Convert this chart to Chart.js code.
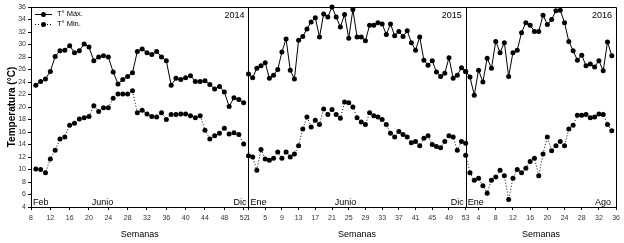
<!DOCTYPE html>
<html><head><meta charset="utf-8">
<script src="https://cdn.jsdelivr.net/npm/chart.js@4.4.1/dist/chart.umd.min.js"></script>
<style>html,body{margin:0;padding:0;background:#fff}#wrap{width:624px;height:243px;position:relative}</style>
</head><body><div id="wrap"><canvas id="c"></canvas></div>
<script>
const weeks2014 = [9,10,11,12,13,14,15,16,17,18,19,20,21,22,23,24,25,26,27,28,29,30,31,32,33,34,35,36,37,38,39,40,41,42,43,44,45,46,47,48,49,50,51,52];
const max2014 = [23.5,24.1,24.5,25.7,28.1,29.0,29.1,29.8,28.7,29.0, 30.1,29.6,27.4,28.0,28.2,28.0,25.6,23.7,24.4,24.9, 25.5,28.9,29.3,28.7,28.4,28.9,28.0,27.4,23.5,24.6, 24.4,24.7,25.0,24.1,24.1,24.2,23.6,22.9,23.3,22.4, 20.1,21.5,21.2,20.7];
const min2014 = [10.1,10.0,9.5,11.7,13.1,14.9,15.2,17.1,17.4,18.1, 18.3,18.5,20.2,19.3,19.9,19.9,21.4,22.1,22.1,22.1, 22.6,19.1,19.5,18.9,18.5,18.4,19.1,18.0,18.8,18.8, 18.9,18.9,18.6,18.3,18.6,16.3,14.9,15.4,15.8,16.6, 15.7,15.9,15.6,14.1];

const weeks2015 = [1,2,3,4,5,6,7,8,9,10,11,12,13,14,15,16,17,18,19,20,21,22,23,24,25,26,27,28,29,30,31,32,33,34,35,36,37,38,39,40,41,42,43,44,45,46,47,48,49,50,51,52,53];
const max2015 = [25.3,24.7,26.2,26.6,27.1,24.6,25.1,26.0,28.8,30.9, 25.9,24.5,30.7,31.3,32.5,33.6,34.3,31.2,34.9,34.4, 36.0,34.4,32.8,34.8,31.0,35.6,31.2,31.2,30.6,33.1, 33.1,33.5,33.3,31.6,33.3,31.4,32.1,31.3,32.2,30.3, 29.1,31.2,27.5,26.7,27.4,25.6,24.9,25.4,27.9,24.6, 25.1,26.3,25.7];
const min2015 = [12.2,12.0,9.9,13.2,11.7,11.5,11.8,12.8,11.8,12.8, 12.0,12.5,13.8,16.5,18.4,16.8,17.9,17.2,19.7,18.8, 19.6,18.8,18.2,20.8,20.7,20.0,18.3,17.6,17.2,19.1, 18.6,18.4,18.0,17.2,15.8,15.2,16.1,15.6,15.2,14.3, 14.5,13.8,15.0,15.4,14.0,13.7,13.5,14.5,15.4,15.2, 13.1,14.5,14.2];

const weeks2016 = [1,2,3,4,5,6,7,8,9,10,11,12,13,14,15,16,17,18,19,20,21,22,23,24,25,26,27,28,29,30,31,32,33,34,35];
const max2016 = [25.7, 24.8,21.9,25.9,24.0,27.8,26.2,30.5,28.7,30.3,24.9, 28.7,29.1,31.9,33.5,33.1,32.1,32.1,34.7,33.2,34.0, 35.4,35.5,33.5,30.5,29.0,27.5,28.3,26.6,26.9,26.4, 27.4,25.8,30.4,28.2];
const min2016 = [12.3, 9.5,8.3,8.6,7.4,6.2,8.3,8.8,9.9,9.0,5.2, 8.6,10.0,9.5,10.2,11.3,11.8,9.0,12.5,15.2,13.0, 13.8,14.5,13.8,16.5,17.1,18.7,18.7,18.8,18.3,18.4, 18.9,18.8,17.2,16.2];

const yearLabels = ['2014','2015','2016'];
const panelRanges = [[8,53],[1,53],[1,36]];
const panelWeights = [218.3,218,151];
const monthLabels = [
  {panel:0, text:'Feb', at:'start'},
  {panel:0, text:'Junio', week:22.8},
  {panel:0, text:'Dic', at:'end'},
  {panel:1, text:'Ene', at:'start'},
  {panel:1, text:'Junio', week:24.2},
  {panel:1, text:'Dic', at:'end'},
  {panel:2, text:'Ene', at:'start'},
  {panel:2, text:'Ago', at:'end'}
];
const seriesNames = ['T° Máx.','T° Min.'];
const yMin = 4, yMax = 36, yStep = 2, xStep = 4;

const FONT = "'Liberation Sans', Arial, sans-serif";
const xIds = ['x14','x15','x16'];
const weekSets = [weeks2014, weeks2015, weeks2016];
const maxSets = [max2014, max2015, max2016];
const minSets = [min2014, min2015, min2016];

function pts(w, v){ return w.map((x,i)=>({x:x, y:v[i]})); }

const datasets = [];
for (let p=0;p<3;p++){
  datasets.push({label: seriesNames[0], data: pts(weekSets[p], maxSets[p]), xAxisID: xIds[p], yAxisID:'y',
    borderColor:'#000', backgroundColor:'#000', borderWidth:1, pointRadius:2.5, pointBorderWidth:0,
    pointBackgroundColor:'#000', tension:0, clip:false});
  datasets.push({label: seriesNames[1], data: pts(weekSets[p], minSets[p]), xAxisID: xIds[p], yAxisID:'y',
    borderColor:'#000', backgroundColor:'#000', borderWidth:1, borderDash:[1,2], pointRadius:2.5, pointBorderWidth:0,
    pointBackgroundColor:'#000', tension:0, clip:false});
}

function xScale(p){
  return {type:'linear', position:'bottom', stack:'weeks', stackWeight: panelWeights[p],
    min: panelRanges[p][0], max: panelRanges[p][1], offset:false,
    ticks:{stepSize:xStep, includeBounds:false, autoSkip:false, maxRotation:0, minRotation:0, padding:4,
      color:'#333', font:{size:7, family:FONT}},
    grid:{display:true, drawOnChartArea:false, drawTicks:true, tickLength:3, color:'#000', lineWidth:1},
    border:{display:true, color:'#000', width:1},
    title:{display:true, text:'Semanas', color:'#000', font:{size:9, family:FONT}, padding:{top:0,bottom:3}},
    afterFit: s => { s.height = 36; }
  };
}

const decor = {
  id:'decor',
  afterDatasetsDraw(chart){
    const {ctx, chartArea:a} = chart;
    const sx = xIds.map(id=>chart.scales[id]);
    ctx.save();
    ctx.strokeStyle = '#000'; ctx.lineWidth = 1;
    const r = v => Math.round(v) + 0.5;
    ctx.beginPath();
    ctx.moveTo(r(a.left), r(a.top)); ctx.lineTo(r(a.right), r(a.top)); ctx.lineTo(r(a.right), r(a.bottom));
    for (let p=1;p<3;p++){ ctx.moveTo(r(sx[p].left), r(a.top)); ctx.lineTo(r(sx[p].left), r(a.bottom)); }
    ctx.stroke();

    ctx.fillStyle = '#000';
    ctx.font = '9px ' + FONT;
    ctx.textAlign = 'right'; ctx.textBaseline = 'middle';
    for (let p=0;p<3;p++) ctx.fillText(yearLabels[p], sx[p].right - 4, a.top + 9);

    ctx.textBaseline = 'alphabetic';
    for (const m of monthLabels){
      const s = sx[m.panel];
      let x;
      if (m.at === 'start'){ ctx.textAlign='left'; x = s.left + 2; }
      else if (m.at === 'end'){ ctx.textAlign='right'; x = s.right - (m.panel===2?5:2); }
      else { ctx.textAlign='center'; x = s.getPixelForValue(m.week); }
      ctx.fillText(m.text, x, a.bottom - 2);
    }

    const lx = a.left + 4, lw = 17;
    ctx.font = '7.5px ' + FONT;
    ctx.textAlign = 'left'; ctx.textBaseline = 'middle';
    for (let i=0;i<2;i++){
      const ds = chart.data.datasets[i];
      const ly = a.top + 6.5 + i*10;
      ctx.setLineDash(ds.borderDash || []);
      ctx.beginPath(); ctx.moveTo(lx, Math.round(ly)+0.5); ctx.lineTo(lx+lw, Math.round(ly)+0.5); ctx.stroke();
      ctx.setLineDash([]);
      ctx.beginPath(); ctx.arc(lx + lw/2, Math.round(ly)+0.5, 2.5, 0, Math.PI*2); ctx.fill();
      ctx.fillText(ds.label, lx + lw + 5, ly + 0.5);
    }
    ctx.restore();
  }
};

new Chart(document.getElementById('c'), {
  type:'line',
  data:{datasets},
  options:{
    responsive:true, maintainAspectRatio:false, animation:false, devicePixelRatio:1,
    layout:{padding:{top:7, right:6, bottom:0, left:0}},
    plugins:{legend:{display:false}, tooltip:{enabled:false}},
    scales:{
      x14: xScale(0), x15: xScale(1), x16: xScale(2),
      y:{type:'linear', position:'left', min:yMin, max:yMax,
        ticks:{stepSize:yStep, padding:2, color:'#333', font:{size:7, family:FONT}},
        grid:{display:true, drawOnChartArea:false, drawTicks:true, tickLength:3, color:'#000'},
        border:{display:true, color:'#000', width:1},
        title:{display:true, text:'Temperatura (°C)', color:'#000', font:{size:10, weight:'bold', family:FONT}, padding:{top:6,bottom:0}},
        afterFit: s => { s.width = 31; }
      }
    }
  },
  plugins:[decor]
});
</script></body></html>
